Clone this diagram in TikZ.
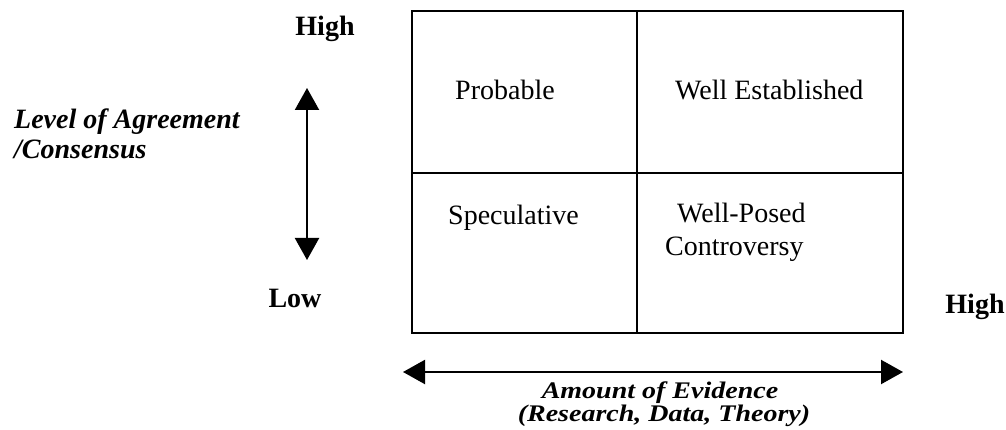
\documentclass[tikz,border=0pt]{standalone}
\usepackage{fontspec}
\setmainfont{Liberation Serif}
\usetikzlibrary{arrows.meta}
\begin{document}
\begin{tikzpicture}[x=1pt,y=-1pt,
  txt/.style={font=\fontsize{28}{31}\selectfont, inner sep=0pt},
  lbl/.style={font=\fontsize{28}{31}\selectfont\bfseries, inner sep=0pt},
  axl/.style={font=\fontsize{28}{31}\selectfont\bfseries\itshape, inner sep=0pt},
  grid/.style={line width=1.6pt},
  dbl/.style={line width=2.2pt, {Triangle[length=22pt,width=24pt]}-{Triangle[length=22pt,width=24pt]}}]
\useasboundingbox (0,0) rectangle (1006,430);
% box
\coordinate (tl) at (412,11);
\coordinate (br) at (903,333);
\coordinate (tm) at (637,11);
\coordinate (bm) at (637,333);
\coordinate (lm) at (412,173);
\coordinate (rm) at (903,173);
\draw[grid] (tl) rectangle (br);
\draw[grid] (tm) -- (bm);
\draw[grid] (lm) -- (rm);
% cell texts
\node[txt, anchor=base west] (prob) at (455,100) {Probable};
\node[txt, anchor=base west] (well) at (675,100) {Well Established};
\node[txt, anchor=base west] (spec) at (448,225) {Speculative};
\node[txt, anchor=base west] (wp) at (677,223) {Well-Posed};
\node[txt, anchor=base west] (cont) at (665,255) {Controversy};
% axes labels
\node[lbl, anchor=base] (hightop) at (325,36) {High};
\node[lbl, anchor=base] (low) at (295,307) {Low};
\node[lbl, anchor=base] (highright) at (975,313) {High};
\node[axl, anchor=base west] (lev) at (14,129) {Level of Agreement};
\node[axl, anchor=base west] (cons) at (14,159) {/Consensus};
\node[axl, anchor=base] (amt) at (660,398) {\scalebox{1}[0.85]{Amount of Evidence}};
\node[axl, anchor=base] (rdt) at (664,421) {\scalebox{1}[0.85]{(Research, Data, Theory)}};
% arrows
\coordinate (vt) at (307,88);
\coordinate (vb) at (307,260);
\coordinate (hl) at (403,372);
\coordinate (hr) at (903,372);
\draw[dbl] (vb) -- (vt);
\draw[dbl] (hl) -- (hr);
\end{tikzpicture}
\end{document}
